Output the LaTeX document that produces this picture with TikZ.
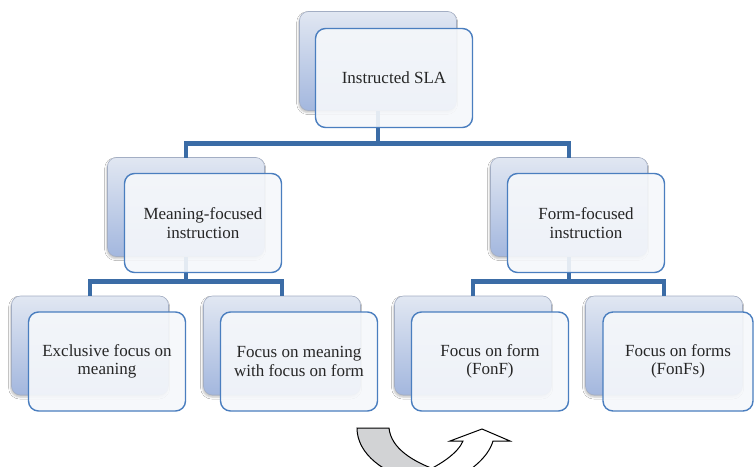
\documentclass[tikz,border=0pt]{standalone}
\usepackage{fontspec}
\setmainfont{Liberation Serif}
\usetikzlibrary{shadows.blur}
\definecolor{linkblue}{HTML}{3B6CA6}
\definecolor{edgeblue}{HTML}{4A7EBF}
\definecolor{backtop}{HTML}{E1E7F2}
\definecolor{backbot}{HTML}{A3B7DE}
\definecolor{backedge}{HTML}{A3AEC4}
\definecolor{frontfill}{HTML}{F6F8FB}
\definecolor{arrowgray}{HTML}{D2D3D5}

\begin{document}
\begin{tikzpicture}[x=1pt,y=-1pt,
  backbox/.style={rectangle, rounded corners=9pt, minimum width=157pt,
    minimum height=99pt, inner sep=0pt, outer sep=0pt,
    top color=backtop, bottom color=backbot, draw=backedge, line width=0.6pt,
    blur shadow={shadow xshift=-0.8pt, shadow yshift=-2pt,
      shadow blur radius=2pt, shadow opacity=25}},
  frontbox/.style={rectangle, rounded corners=10pt, minimum width=157pt,
    minimum height=99pt, inner sep=0pt, outer sep=0pt,
    fill=frontfill, fill opacity=0.9, text opacity=1, draw=edgeblue,
    draw opacity=1, line width=1.4pt, align=center,
    font=\fontsize{17}{18.5}\selectfont, text=black!85},
  conn/.style={draw=linkblue, line width=4.6pt, line join=miter},
  turnarrow/.style={draw=black, line width=1pt, line join=miter}]

\useasboundingbox[fill=white] (0,0) rectangle (754,466);

% back (shaded) boxes
\node[backbox] (b0) at (378,61) {};
\node[backbox] (bL) at (186,207) {};
\node[backbox] (bR) at (569,207) {};
\node[backbox] (b1) at (90,345.5) {};
\node[backbox] (b2) at (282,345.5) {};
\node[backbox] (b3) at (473,345.5) {};
\node[backbox] (b4) at (664,345.5) {};

% hierarchy connectors
\draw[conn] (b0.south) -- ++(0,33) coordinate (j0) -| (bL.north);
\draw[conn] (j0) -| (bR.north);
\draw[conn] (bL.south) -- ++(0,25) coordinate (j1) -| (b1.north);
\draw[conn] (j1) -| (b2.north);
\draw[conn] (bR.south) -- ++(0,25) coordinate (j2) -| (b3.north);
\draw[conn] (j2) -| (b4.north);

% front (text) boxes
\node[frontbox] (f0) at (394,78) {Instructed SLA};
\node[frontbox] (fL) at (203,223) {Meaning-focused\\instruction};
\node[frontbox] (fR) at (586,223) {Form-focused\\instruction};
\node[frontbox] (f1) at (107,361.5) {Exclusive focus on\\meaning};
\node[frontbox] (f2) at (299,361.5) {Focus on meaning\\with focus on form};
\node[frontbox] (f3) at (490,361.5) {Focus on form\\(FonF)};
\node[frontbox, minimum width=150pt] (f4) at (678,361.5) {Focus on forms\\(FonFs)};

% U-turn arrow at the bottom
\begin{scope}
  \clip (0,0) rectangle (754,466);
  \draw[turnarrow, fill=arrowgray] (357,428) -- (389,428)
    .. controls (391,448) and (412,462) .. (442,472) -- (418,482)
    .. controls (384,474) and (357,454) .. cycle;
  \draw[turnarrow, fill=white] (415,476)
    .. controls (440,466) and (458,453) .. (463,441) -- (450,441)
    -- (482,429) -- (510,441) -- (493,441)
    .. controls (488,458) and (470,472) .. (446,484) -- cycle;
\end{scope}
\end{tikzpicture}
\end{document}
